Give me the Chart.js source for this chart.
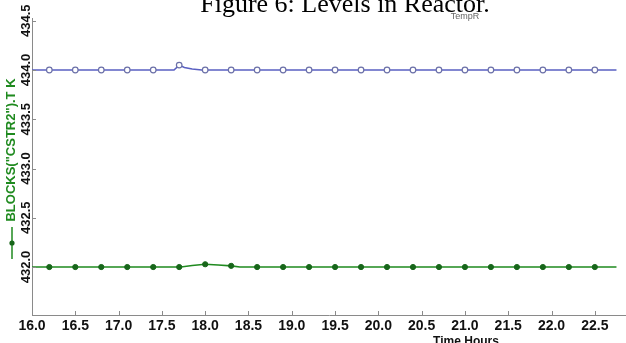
<!DOCTYPE html>
<html>
<head>
<meta charset="utf-8">
<script src="https://cdn.jsdelivr.net/npm/chart.js@4.4.1/dist/chart.umd.min.js"></script>
<style>
  html, body { margin: 0; padding: 0; background: #fff; }
  #wrap { position: relative; width: 626px; height: 343px; }
</style>
</head>
<body>
<div id="wrap"><canvas id="c"></canvas></div>
<script>
// ---- data ----
const captionText = 'Figure 6: Levels in Reactor.';
const legendText = 'TempR';
const xTitle = 'Time Hours';
const yTitle = 'BLOCKS("CSTR2").T K';

const blueHours = [16.0, 16.2, 16.5, 16.8, 17.1, 17.4, 17.64, 17.7, 17.76, 17.85, 17.96, 18.0, 18.3, 18.6, 18.9, 19.2, 19.5, 19.8, 20.1, 20.4, 20.7, 21.0, 21.3, 21.6, 21.9, 22.2, 22.5, 22.75];
const blueTemps = [434.0, 434.0, 434.0, 434.0, 434.0, 434.0, 434.0, 434.05, 434.025, 434.01, 434.0, 434.0, 434.0, 434.0, 434.0, 434.0, 434.0, 434.0, 434.0, 434.0, 434.0, 434.0, 434.0, 434.0, 434.0, 434.0, 434.0, 434.0];
const blueMarked = [0, 1, 1, 1, 1, 1, 0, 1, 0, 0, 0, 1, 1, 1, 1, 1, 1, 1, 1, 1, 1, 1, 1, 1, 1, 1, 1, 0];

const greenHours = [16.0, 16.2, 16.5, 16.8, 17.1, 17.4, 17.7, 17.72, 17.85, 18.0, 18.15, 18.3, 18.4, 18.6, 18.9, 19.2, 19.5, 19.8, 20.1, 20.4, 20.7, 21.0, 21.3, 21.6, 21.9, 22.2, 22.5, 22.75];
const greenTemps = [432.0, 432.0, 432.0, 432.0, 432.0, 432.0, 432.0, 432.0, 432.015, 432.028, 432.02, 432.012, 432.0, 432.0, 432.0, 432.0, 432.0, 432.0, 432.0, 432.0, 432.0, 432.0, 432.0, 432.0, 432.0, 432.0, 432.0, 432.0];
const greenMarked = [0, 1, 1, 1, 1, 1, 1, 0, 0, 1, 0, 1, 0, 1, 1, 1, 1, 1, 1, 1, 1, 1, 1, 1, 1, 1, 1, 0];

const xMin = 16.0, xMax = 22.86, xStep = 0.5;
const yMin = 431.513, yMax = 434.528, yStep = 0.5;

const toPts = (xs, ys) => xs.map((x, i) => ({ x: x, y: ys[i] }));

const BLUE = '#5a60c2';
const GREEN = '#1f8a1f';
const GREEN_DARK = '#17661a';
const AXIS = '#8a8a8a';

const decorPlugin = {
  id: 'decor',
  afterDraw(chart) {
    const ctx = chart.ctx;
    const xs = chart.scales.x, ys = chart.scales.y;
    const area = chart.chartArea;
    ctx.save();
    // inward tick marks
    ctx.strokeStyle = AXIS;
    ctx.lineWidth = 1;
    xs.ticks.forEach(t => {
      const px = Math.round(xs.getPixelForValue(t.value)) + 0.5;
      ctx.beginPath(); ctx.moveTo(px, area.bottom); ctx.lineTo(px, area.bottom - 4); ctx.stroke();
    });
    ys.ticks.forEach(t => {
      const py = Math.round(ys.getPixelForValue(t.value)) + 0.5;
      ctx.beginPath(); ctx.moveTo(area.left, py); ctx.lineTo(area.left + 4, py); ctx.stroke();
    });
    // caption
    ctx.fillStyle = '#000';
    ctx.font = '26px "Liberation Serif", "Times New Roman", serif';
    ctx.textAlign = 'center';
    ctx.textBaseline = 'alphabetic';
    ctx.fillText(captionText, 345, 12);
    // legend label
    ctx.fillStyle = '#666';
    ctx.font = '9px "Liberation Sans", Arial, sans-serif';
    ctx.textBaseline = 'middle';
    ctx.fillText(legendText, 465, 17);
    // x title
    ctx.fillStyle = '#111';
    ctx.textBaseline = 'alphabetic';
    ctx.font = 'bold 12px "Liberation Sans", Arial, sans-serif';
    ctx.fillText(xTitle, 466, 345);
    // y title with legend symbol
    ctx.save();
    ctx.translate(11, 150);
    ctx.rotate(-Math.PI / 2);
    ctx.fillStyle = GREEN;
    ctx.font = 'bold 13px "Liberation Sans", Arial, sans-serif';
    ctx.textAlign = 'center';
    ctx.textBaseline = 'middle';
    ctx.fillText(yTitle, 0, 0);
    ctx.restore();
    ctx.strokeStyle = GREEN;
    ctx.lineWidth = 1.5;
    ctx.beginPath(); ctx.moveTo(12, 227); ctx.lineTo(12, 259); ctx.stroke();
    ctx.fillStyle = GREEN_DARK;
    ctx.beginPath(); ctx.arc(12, 243, 2.6, 0, Math.PI * 2); ctx.fill();
    ctx.restore();
  }
};

new Chart(document.getElementById('c'), {
  type: 'line',
  data: {
    datasets: [
      {
        label: 'TempR',
        data: toPts(blueHours, blueTemps),
        borderColor: BLUE,
        borderWidth: 1.6,
        pointRadius: ctx => blueMarked[ctx.dataIndex] ? 2.8 : 0,
        pointBackgroundColor: '#ffffff',
        pointBorderColor: '#6b70a8',
        pointBorderWidth: 1.2,
        tension: 0
      },
      {
        label: yTitle,
        data: toPts(greenHours, greenTemps),
        borderColor: GREEN,
        borderWidth: 1.6,
        pointRadius: ctx => greenMarked[ctx.dataIndex] ? 2.6 : 0,
        pointBackgroundColor: GREEN_DARK,
        pointBorderColor: GREEN_DARK,
        pointBorderWidth: 1,
        tension: 0
      }
    ]
  },
  options: {
    responsive: true,
    maintainAspectRatio: false,
    animation: false,
    layout: { padding: { left: 0, right: 0, top: 18, bottom: 0 } },
    plugins: { legend: { display: false }, tooltip: { enabled: false } },
    scales: {
      x: {
        type: 'linear',
        min: xMin, max: xMax,
        afterFit: s => { s.height = 28; },
        grid: { display: false, drawTicks: false },
        border: { display: true, color: AXIS, width: 1 },
        ticks: {
          stepSize: xStep,
          includeBounds: false,
          maxRotation: 0, minRotation: 0,
          padding: 3,
          color: '#111',
          font: { family: '"Liberation Sans", Arial, sans-serif', size: 14, weight: 'bold' },
          callback: v => Number(v).toFixed(1)
        }
      },
      y: {
        type: 'linear',
        min: yMin, max: yMax,
        afterFit: s => { s.width = 32; },
        grid: { display: false, drawTicks: false },
        border: { display: true, color: AXIS, width: 1 },
        ticks: {
          stepSize: yStep,
          includeBounds: false,
          minRotation: 90, maxRotation: 90,
          crossAlign: 'center',
          padding: -11,
          color: '#111',
          font: { family: '"Liberation Sans", Arial, sans-serif', size: 13, weight: 'bold' },
          callback: v => Number(v).toFixed(1)
        }
      }
    }
  },
  plugins: [decorPlugin]
});
</script>
</body>
</html>
